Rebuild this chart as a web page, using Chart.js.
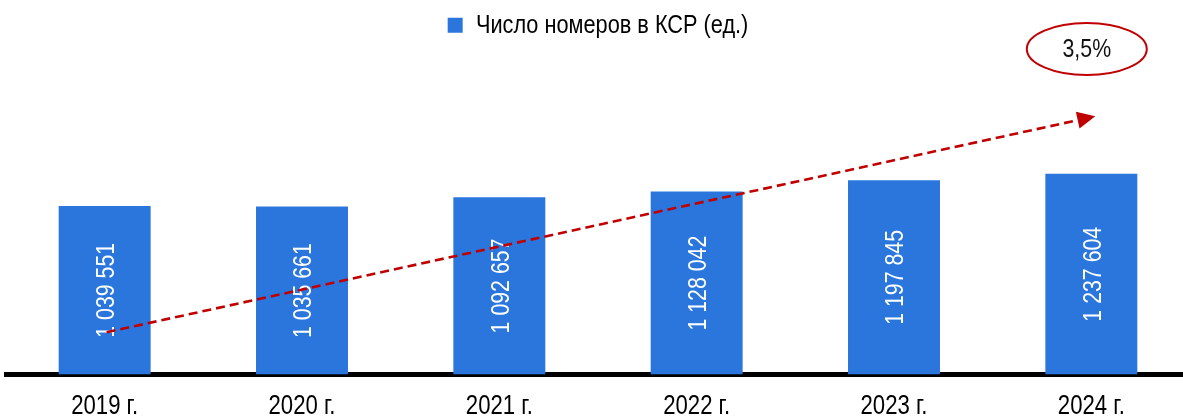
<!DOCTYPE html>
<html>
<head>
<meta charset="utf-8">
<script src="https://cdn.jsdelivr.net/npm/chart.js@4.4.0/dist/chart.umd.min.js"></script>
<style>
  html, body { margin: 0; padding: 0; overflow: hidden; background: #fff; }
  .wrap { width: 1190px; height: 447px; }
</style>
</head>
<body>
<div class="wrap"><canvas id="chart"></canvas></div>
<script>
const FONT = "'Liberation Sans', Arial, sans-serif";

// DATA
const years = ["2019 г.", "2020 г.", "2021 г.", "2022 г.", "2023 г.", "2024 г."];
const rooms = [1039551, 1035661, 1092657, 1128042, 1197845, 1237604];
const seriesName = "Число номеров в КСР (ед.)";
const growthText = "3,5%";
// trend arrow and bubble, in data units (category index, value)
const arrowFrom = [0.01, 261000];
const arrowTo = [5.02, 1592000];
const bubbleAt = [4.977, 2007000];

const barColor = '#2A76DD';
const red = '#C00000';

function fmt(n) {
    return String(n).replace(/\B(?=(\d{3})+(?!\d))/g, ' ');
}

// no Arial Narrow here: squeeze Liberation Sans the same way
const canvas = document.getElementById('chart');
const c2d = canvas.getContext('2d');
const NARROW = 0.82;
const rawFill = c2d.fillText.bind(c2d);
const rawMeasure = c2d.measureText.bind(c2d);
c2d.fillText = function(text, x, y) {
    this.save();
    this.translate(x, y);
    this.scale(NARROW, 1);
    rawFill(text, 0, 0);
    this.restore();
};
c2d.measureText = function(text) {
    const m = rawMeasure(text);
    return {
        width: m.width * NARROW,
        actualBoundingBoxAscent: m.actualBoundingBoxAscent,
        actualBoundingBoxDescent: m.actualBoundingBoxDescent,
        actualBoundingBoxLeft: m.actualBoundingBoxLeft * NARROW,
        actualBoundingBoxRight: m.actualBoundingBoxRight * NARROW
    };
};

// labels inside the bars
const barLabels = {
    id: 'barLabels',
    afterDatasetsDraw(chart) {
        const ctx = chart.ctx;
        const meta = chart.getDatasetMeta(0);
        ctx.save();
        ctx.fillStyle = '#fff';
        ctx.font = "26px " + FONT;
        ctx.textAlign = 'center';
        ctx.textBaseline = 'middle';
        meta.data.forEach(function(bar, i) {
            ctx.save();
            ctx.translate(bar.x + 1, (bar.y + bar.base) / 2);
            ctx.rotate(-Math.PI / 2);
            ctx.fillText(fmt(rooms[i]), 0, 1);
            ctx.restore();
        });
        ctx.restore();
    }
};

// dashed trend arrow + growth bubble
const trend = {
    id: 'trend',
    afterDraw(chart) {
        const ctx = chart.ctx;
        const xs = chart.scales.x, ys = chart.scales.y;
        const x1 = xs.getPixelForValue(arrowFrom[0]), y1 = ys.getPixelForValue(arrowFrom[1]);
        const x2 = xs.getPixelForValue(arrowTo[0]), y2 = ys.getPixelForValue(arrowTo[1]);
        const ang = Math.atan2(y2 - y1, x2 - x1);
        const headLen = 18, headW = 8.5;
        const bx = x2 - headLen * Math.cos(ang), by = y2 - headLen * Math.sin(ang);
        ctx.save();
        ctx.strokeStyle = red;
        ctx.fillStyle = red;
        ctx.lineWidth = 2.6;
        ctx.setLineDash([9, 5]);
        ctx.beginPath();
        ctx.moveTo(x1, y1);
        ctx.lineTo(bx, by);
        ctx.stroke();
        ctx.setLineDash([]);
        ctx.beginPath();
        ctx.moveTo(x2, y2);
        ctx.lineTo(bx + headW * Math.sin(ang), by - headW * Math.cos(ang));
        ctx.lineTo(bx - headW * Math.sin(ang), by + headW * Math.cos(ang));
        ctx.closePath();
        ctx.fill();

        // bubble
        const cx = xs.getPixelForValue(bubbleAt[0]), cy = ys.getPixelForValue(bubbleAt[1]);
        ctx.lineWidth = 2;
        ctx.beginPath();
        ctx.ellipse(cx, cy, 60, 26, 0, 0, Math.PI * 2);
        ctx.stroke();
        ctx.fillStyle = '#111';
        ctx.font = "26px " + FONT;
        ctx.textAlign = 'center';
        ctx.textBaseline = 'middle';
        ctx.fillText(growthText, cx, cy + 1);
        ctx.restore();
    }
};

const chart = new Chart(canvas, {
    type: 'bar',
    data: {
        labels: years,
        datasets: [{
            label: seriesName,
            data: rooms,
            backgroundColor: barColor,
            borderWidth: 0,
            barPercentage: 0.466,
            categoryPercentage: 1
        }]
    },
    options: {
        responsive: true,
        maintainAspectRatio: false,
        animation: false,
        layout: { padding: { left: 6, right: 0, top: 2, bottom: 8 } },
        plugins: {
            legend: {
                display: true,
                position: 'top',
                labels: {
                    boxWidth: 15,
                    boxHeight: 15,
                    color: '#000',
                    font: { size: 26.5, family: FONT }
                }
            },
            tooltip: { enabled: false }
        },
        scales: {
            x: {
                grid: { display: false, drawTicks: false },
                border: { display: true, color: '#000', width: 5 },
                ticks: {
                    color: '#000',
                    padding: 16,
                    font: { size: 27, family: FONT }
                }
            },
            y: {
                display: false,
                min: 0,
                max: 2010000
            }
        }
    },
    plugins: [barLabels, trend]
});
</script>
</body>
</html>
